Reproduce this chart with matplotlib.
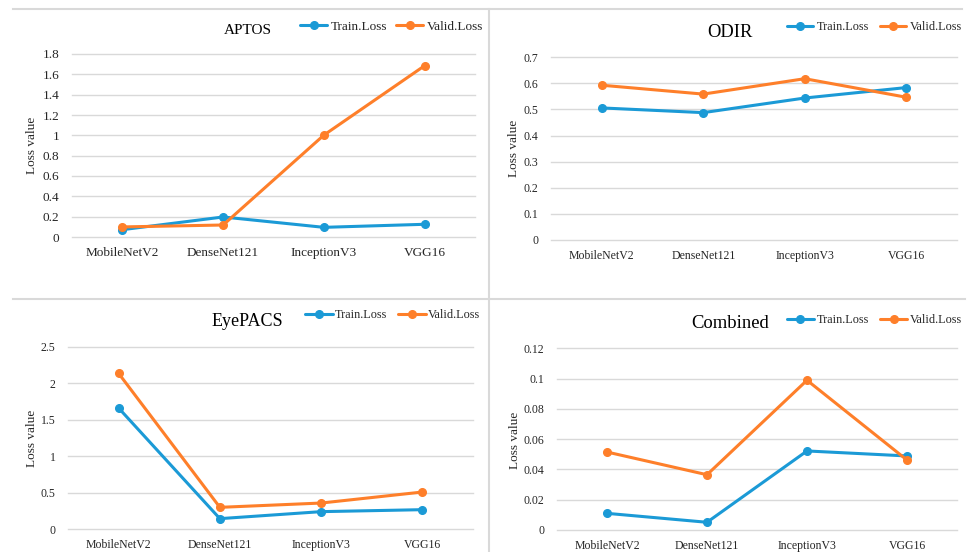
import matplotlib
matplotlib.use("Agg")
import matplotlib.pyplot as plt
from matplotlib.lines import Line2D

plt.rcParams["font.family"] = ["Liberation Serif", "DejaVu Serif"]

models = ["MobileNetV2", "DenseNet121", "InceptionV3", "VGG16"]

aptos_train = [0.072, 0.197, 0.095, 0.125]
aptos_valid = [0.099, 0.118, 1.002, 1.685]
aptos_ticks = [0, 0.2, 0.4, 0.6, 0.8, 1.0, 1.2, 1.4, 1.6, 1.8]

odir_train = [0.506, 0.488, 0.544, 0.584]
odir_valid = [0.593, 0.559, 0.618, 0.547]
odir_ticks = [0, 0.1, 0.2, 0.3, 0.4, 0.5, 0.6, 0.7]

eyepacs_train = [1.659, 0.142, 0.238, 0.265]
eyepacs_valid = [2.134, 0.297, 0.356, 0.507]
eyepacs_ticks = [0, 0.5, 1.0, 1.5, 2.0, 2.5]

combined_train = [0.0110, 0.0051, 0.0522, 0.0489]
combined_valid = [0.0515, 0.0365, 0.0989, 0.0462]
combined_ticks = [0, 0.02, 0.04, 0.06, 0.08, 0.10, 0.12]

W, H = 967, 552
BLUE = "#1b9ad6"
ORANGE = "#fe7f2a"
GRID = "#d9d9d9"
TXT = "#262626"

fig = plt.figure(figsize=(W / 100, H / 100), dpi=100)


def fx(px):
    return px / W


def fy(py):
    return 1 - py / H


def panel(box, title, title_size, title_xy, legend_xy, ylabel_xy, train, valid, ticks,
          fs, lfs, handlelen, textpad, colspace):
    x0, y_top, x1, y_bot = box
    ax = fig.add_axes([fx(x0), fy(y_bot), fx(x1 - x0), (y_bot - y_top) / H])
    xs = list(range(len(models)))
    ax.plot(xs, train, color=BLUE, lw=2.2, marker="o", ms=5.5, label="Train.Loss",
            solid_capstyle="round", zorder=3)
    ax.plot(xs, valid, color=ORANGE, lw=2.2, marker="o", ms=5.5, label="Valid.Loss",
            solid_capstyle="round", zorder=3)
    ax.set_xlim(-0.5, len(models) - 0.5)
    ax.set_ylim(ticks[0], ticks[-1])
    ax.set_yticks(ticks)
    ax.set_yticklabels([f"{t:g}" for t in ticks])
    ax.set_xticks(xs)
    ax.set_xticklabels(models)
    ax.tick_params(axis="both", length=0, labelsize=fs, colors=TXT)
    ax.tick_params(axis="y", pad=9)
    ax.tick_params(axis="x", pad=7)
    for s in ax.spines.values():
        s.set_visible(False)
    ax.yaxis.grid(True, color=GRID, lw=1.0, clip_on=False)
    ax.set_axisbelow(True)
    ax.patch.set_alpha(0)

    fig.text(fx(title_xy[0]), fy(title_xy[1]), title, ha="center", va="baseline",
             fontsize=title_size, color="black")
    fig.text(fx(ylabel_xy[0]), fy(ylabel_xy[1]), "Loss value", rotation=90,
             ha="center", va="center", fontsize=9.5, color=TXT)
    ax.legend(loc="center left", bbox_to_anchor=(fx(legend_xy[0]), fy(legend_xy[1])),
              bbox_transform=fig.transFigure, ncol=2, frameon=False, fontsize=lfs,
              handlelength=handlelen, handletextpad=textpad, columnspacing=colspace,
              borderpad=0, borderaxespad=0, labelcolor=TXT)
    return ax


panel((72, 54, 475, 237), "APTOS", 11, (248, 34), (300, 27), (32, 145),
      aptos_train, aptos_valid, aptos_ticks, 9.5, 9.5, 2.05, 0.25, 0.7)
panel((551, 57.3, 957, 240), "ODIR", 13.3, (730, 37), (787, 27), (514, 148),
      odir_train, odir_valid, odir_ticks, 8.5, 8.8, 2.1, 0.3, 0.95)
panel((68, 346.7, 473, 529), "EyePACS", 13, (247, 326), (305, 315), (32, 438),
      eyepacs_train, eyepacs_valid, eyepacs_ticks, 8.5, 8.8, 2.3, 0.15, 0.9)
panel((557, 348.3, 957, 530), "Combined", 13.4, (730, 328), (787, 320), (515, 440),
      combined_train, combined_valid, combined_ticks, 8.5, 8.8, 2.2, 0.2, 0.95)

# chart frame separators
for (xa, ya, xb, yb) in [(13, 9, 962, 9), (13, 299, 965, 299), (489, 9, 489, 552)]:
    fig.add_artist(Line2D([fx(xa), fx(xb)], [fy(ya), fy(yb)], color=GRID, lw=1.5,
                          transform=fig.transFigure))

fig.savefig("out.png", dpi=100)
